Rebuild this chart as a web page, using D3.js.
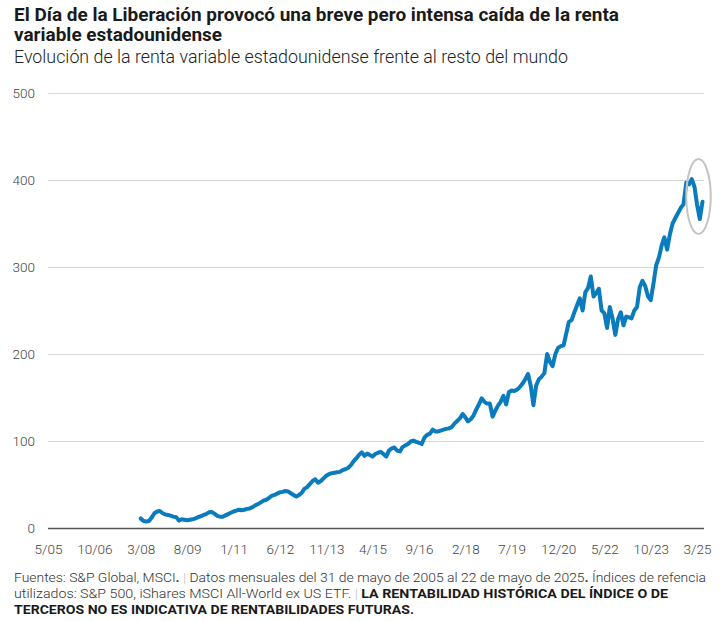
<!DOCTYPE html>
<html>
<head>
<meta charset="utf-8">
<script src="https://cdn.jsdelivr.net/npm/d3@7"></script>
<style>
  body { margin: 0; background: #fff; }
  svg { display: block; font-family: "Roboto", "Liberation Sans", sans-serif; }
</style>
</head>
<body>
<svg id="chart"></svg>
<script>
// first month of the series (the ex-US ETF starts in march 2008)
const firstMonth = "2008-03";

// monthly values, one row per year
const v2008 = [11, 8, 7.5, 8, 12, 17, 19, 19.5, 17, 15.5];
const v2009 = [15, 14, 13, 12.5, 8.5, 10, 9.5, 9, 9.5, 10, 11, 12.5];
const v2010 = [13.5, 15, 16, 18, 18.5, 16.5, 14, 13, 13, 14.5, 16, 17.5];
const v2011 = [19, 20, 21, 20.5, 21, 22, 22.5, 24, 26, 27.5, 29.5, 31.5];
const v2012 = [32.5, 34.5, 37, 38, 39.5, 41, 41.5, 42.5, 42, 40, 38, 36];
const v2013 = [38, 40.5, 45, 47, 50.5, 54, 56, 52, 54, 57, 60, 62];
const v2014 = [63, 63.5, 64, 64.5, 66.5, 67.5, 69, 72, 76.5, 80, 84, 87];
const v2015 = [83, 85.5, 84, 82, 85, 86.5, 87.5, 85, 82, 89, 91.5, 92.5];
const v2016 = [89, 88, 93, 95, 96.5, 99.5, 100.5, 99, 98, 96.5, 104, 107];
const v2017 = [108.5, 113, 111, 111, 112, 113, 114, 114.5, 116, 120, 123, 126];
const v2018 = [131, 127, 122.5, 125, 129, 136, 142, 149, 145, 143, 143, 128];
const v2019 = [135, 141, 145, 152, 142, 156, 158, 157.5, 159, 162, 166, 171];
const v2020 = [177, 163, 141, 164, 171, 174, 178, 200, 191, 186, 200, 207];
const v2021 = [209, 210, 223, 237, 239, 248, 256, 264, 250, 271, 276, 289];
const v2022 = [266, 270, 275, 250, 247, 230, 254, 241, 222, 240, 248, 233];
const v2023 = [243, 242, 241, 250, 254, 277, 284, 278, 266, 262, 281, 302];
const v2024 = [311, 325, 334, 320, 337, 350, 356, 362, 368, 372, 397, 395];
const v2025 = [401, 392, 372, 355, 375];

// axis ticks
const xTickLabels = ["5/05", "10/06", "3/08", "8/09", "1/11", "6/12", "11/13", "4/15",
  "9/16", "2/18", "7/19", "12/20", "5/22", "10/23", "3/25"];
const yTicks = [0, 100, 200, 300, 400, 500];

// highlighted zone (liberation day), dates and values the ellipse spans
const highlight = { from: "2024-11", to: "2025-08", low: 338, high: 424 };

const titleLines = ["El Día de la Liberación provocó una breve pero intensa caída de la renta",
  "variable estadounidense"];
const subtitle = "Evolución de la renta variable estadounidense frente al resto del mundo";

//build the data
const parseMonth = d3.timeParse("%Y-%m");
const parseTick = d3.timeParse("%m/%y");
let allValues = [].concat(v2008, v2009, v2010, v2011, v2012, v2013, v2014, v2015,
  v2016, v2017, v2018, v2019, v2020, v2021, v2022, v2023, v2024, v2025);
let start = parseMonth(firstMonth);
let data = allValues.map(function (v, i) {
  return { date: d3.timeMonth.offset(start, i), value: v };
});

const svgWidth = 728, svgHeight = 621;
const svg = d3.select("#chart").attr("width", svgWidth).attr("height", svgHeight);

let x = d3.scaleTime()
  .domain([parseMonth("2005-05"), parseMonth("2025-05")])
  .range([48, 702.5]);
let y = d3.scaleLinear().domain([0, 500]).range([528, 93]);

// titles
svg.append("g").selectAll("text")
  .data(titleLines)
  .join("text")
  .attr("x", 14)
  .attr("y", (d, i) => 21 + i * 20)
  .attr("font-size", 18)
  .attr("font-weight", "bold")
  .attr("fill", "#1a1a1a")
  .attr("textLength", (d, i) => i === 0 ? 605 : 208)
  .attr("lengthAdjust", "spacingAndGlyphs")
  .text(d => d);

svg.append("text")
  .attr("x", 14).attr("y", 63)
  .attr("font-size", 17.5)
  .attr("font-weight", 300)
  .attr("fill", "#222")
  .attr("textLength", 554)
  .attr("lengthAdjust", "spacingAndGlyphs")
  .text(subtitle);

// gridlines + y labels
let yAxis = d3.axisLeft(y).tickValues(yTicks).tickSize(-(704 - 48)).tickPadding(13);
let gy = svg.append("g").attr("transform", "translate(48,0)").call(yAxis);
gy.select(".domain").remove();
gy.selectAll(".tick line")
  .attr("stroke", d => d === 0 ? "#555" : "#d6d6d6")
  .attr("stroke-width", d => d === 0 ? 1.6 : 1);
gy.selectAll(".tick text")
  .attr("font-size", 13.5)
  .attr("font-weight", 300)
  .attr("fill", "#444")
  .attr("font-family", "Roboto, sans-serif");

// x labels
let xAxis = d3.axisBottom(x)
  .tickValues(xTickLabels.map(parseTick))
  .tickFormat(d3.timeFormat("%-m/%y"))
  .tickSize(0).tickPadding(16);
let gx = svg.append("g").attr("transform", "translate(0,528)").call(xAxis);
gx.select(".domain").remove();
gx.selectAll(".tick text")
  .attr("font-size", 13.5)
  .attr("font-weight", 300)
  .attr("fill", "#444")
  .attr("font-family", "Roboto, sans-serif");

// line
let line = d3.line()
  .x(d => x(d.date))
  .y(d => y(d.value));

svg.append("path")
  .datum(data)
  .attr("fill", "none")
  .attr("stroke", "#0a7bbd")
  .attr("stroke-width", 4)
  .attr("stroke-linejoin", "round")
  .attr("stroke-linecap", "round")
  .attr("d", line);

// ellipse round the april dip
let hx0 = x(parseMonth(highlight.from)), hx1 = x(parseMonth(highlight.to));
svg.append("ellipse")
  .attr("cx", (hx0 + hx1) / 2)
  .attr("cy", (y(highlight.low) + y(highlight.high)) / 2)
  .attr("rx", (hx1 - hx0) / 2)
  .attr("ry", (y(highlight.low) - y(highlight.high)) / 2)
  .attr("fill", "none")
  .attr("stroke", "#c4c4c0")
  .attr("stroke-width", 2);

// footer
let foot = svg.append("g").attr("font-size", 13.5).attr("fill", "#333").attr("font-weight", 300);
let l1 = foot.append("text").attr("x", 14).attr("y", 582)
  .attr("textLength", 692).attr("lengthAdjust", "spacingAndGlyphs");
l1.append("tspan").text("Fuentes: S&P Global, MSCI");
l1.append("tspan").attr("font-weight", "bold").text(".");
l1.append("tspan").attr("fill", "#bbb").text("  |  ");
l1.append("tspan").text("Datos mensuales del 31 de mayo de 2005 al 22 de mayo de 2025");
l1.append("tspan").attr("font-weight", "bold").text(".");
l1.append("tspan").text(" Índices de refencia");
let l2 = foot.append("text").attr("x", 14).attr("y", 598)
  .attr("textLength", 654).attr("lengthAdjust", "spacingAndGlyphs");
l2.append("tspan").text("utilizados: S&P 500, iShares MSCI All-World ex US ETF.");
l2.append("tspan").attr("fill", "#bbb").text("  |  ");
l2.append("tspan").attr("font-weight", "bold").attr("fill", "#1a1a1a")
  .text("LA RENTABILIDAD HISTÓRICA DEL ÍNDICE O DE");
foot.append("text").attr("x", 14).attr("y", 614)
  .attr("font-weight", "bold").attr("fill", "#1a1a1a")
  .attr("textLength", 400).attr("lengthAdjust", "spacingAndGlyphs")
  .text("TERCEROS NO ES INDICATIVA DE RENTABILIDADES FUTURAS.");
</script>
</body>
</html>
